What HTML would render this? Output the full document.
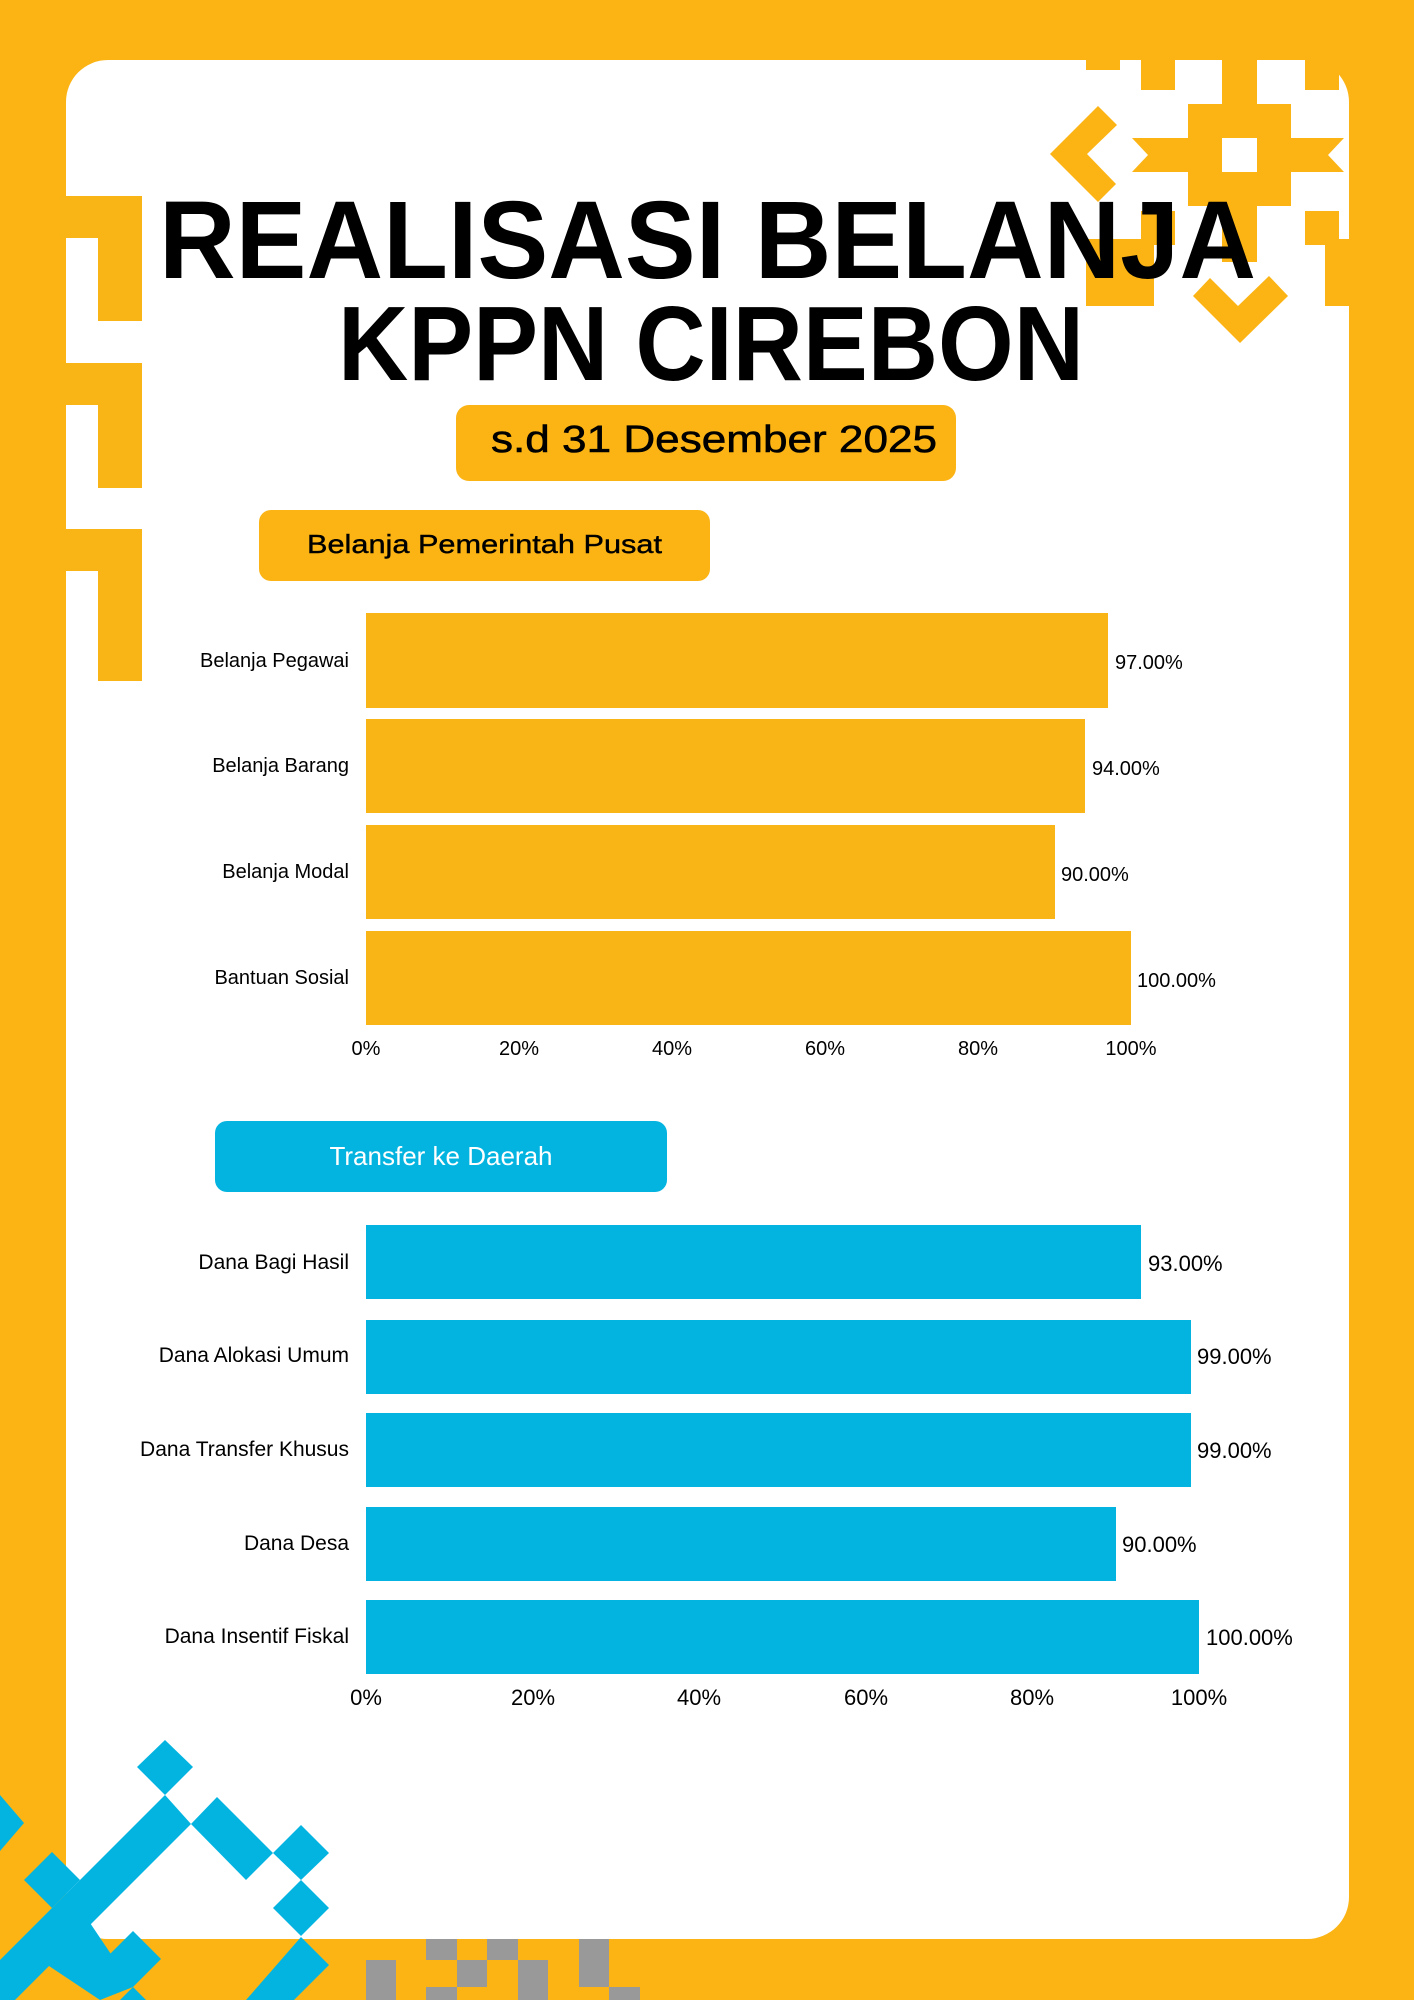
<!DOCTYPE html>
<html><head><meta charset="utf-8"><style>
html,body{margin:0;padding:0;background:#FBB414;}
svg{display:block}
text{font-family:"Liberation Sans",sans-serif;}
</style></head><body>
<svg width="1414" height="2000" viewBox="0 0 1414 2000" xmlns="http://www.w3.org/2000/svg">
<rect x="0" y="0" width="1414" height="2000" fill="#FBB414"/>
<rect x="66" y="60" width="1283" height="1879" rx="42" fill="#fff"/>
<!-- left pattern -->
<g fill="#F9B515">
<rect x="60" y="196" width="82" height="42"/><rect x="98" y="237" width="44" height="84"/>
<rect x="60" y="363" width="82" height="42"/><rect x="98" y="404" width="44" height="84"/>
<rect x="60" y="529" width="82" height="42"/><rect x="98" y="571" width="44" height="110"/>
</g>
<!-- top-right pattern -->
<g fill="#FBB414">
<rect x="1086" y="40" width="34" height="30"/>
<rect x="1141" y="55" width="34" height="35"/>
<rect x="1305" y="55" width="34" height="35"/>
<rect x="1222" y="50" width="35" height="212"/>
<rect x="1188" y="104" width="103" height="102"/>
<polygon points="1132,138 1344,138 1328,155 1344,172 1132,172 1148,155"/>
<polygon points="1098,106 1117,125 1087,154 1116,184 1098,202 1050,154"/>
<rect x="1141" y="211" width="34" height="34"/>
<rect x="1305" y="211" width="34" height="34"/>
<rect x="1086" y="239" width="68" height="67"/>
<rect x="1325" y="239" width="68" height="67"/>
<polygon points="1193,296 1210,278 1238,306 1269,276 1288,296 1240,343"/>
</g>
<rect x="1222" y="138" width="35" height="34" fill="#fff"/>
<!-- bottom-left blue -->
<g fill="#03B4E1">
<polygon points="165,1740 193,1767 165,1795 137,1767"/>
<polygon points="165,1795 191,1824 0,2015 0,1960"/>
<polygon points="191,1824 217,1797 273,1853 246,1880"/>
<polygon points="301,1825 329,1853 301,1880 273,1853"/>
<polygon points="301,1880 329,1908 301,1936 273,1908"/>
<polygon points="301,1937 329,1965 294,2000 246,2000"/>
<polygon points="52,1852 80,1880 52,1908 24,1880"/>
<polygon points="133,1931 161,1959 133,1987 105,1959"/>
<polygon points="0,1795 24,1823 0,1851"/>
<polygon points="80,1908 133,1987 100,2000 40,1960"/>
<polygon points="133,1987 146,2000 120,2000"/>
</g>
<!-- grey squares -->
<g fill="#999">
<rect x="366" y="1960" width="30" height="40"/><rect x="426" y="1939" width="31" height="21"/>
<rect x="426" y="1987" width="31" height="13"/><rect x="457" y="1960" width="30" height="27"/>
<rect x="487" y="1939" width="31" height="21"/><rect x="518" y="1960" width="30" height="40"/>
<rect x="579" y="1939" width="30" height="48"/><rect x="609" y="1987" width="31" height="13"/>
</g>
<!-- title -->
<text x="159" y="278" font-size="110" font-weight="bold" textLength="1097" lengthAdjust="spacingAndGlyphs" fill="#000">REALISASI BELANJA</text>
<text x="338" y="380" font-size="106" font-weight="bold" textLength="746" lengthAdjust="spacingAndGlyphs" fill="#000">KPPN CIREBON</text>
<rect x="456" y="405" width="500" height="76" rx="13" fill="#FBB414"/>
<text x="491" y="452" font-size="38" textLength="446" lengthAdjust="spacingAndGlyphs" fill="#000" stroke="#000" stroke-width="0.6">s.d 31 Desember 2025</text>
<rect x="259" y="510" width="451" height="71" rx="12" fill="#FBB414"/>
<text x="307" y="553" font-size="26" textLength="355" lengthAdjust="spacingAndGlyphs" fill="#000" stroke="#000" stroke-width="0.4">Belanja Pemerintah Pusat</text>
<!-- chart 1 -->
<g fill="#F9B515">
<rect x="366" y="613" width="742" height="95"/>
<rect x="366" y="719" width="719" height="94"/>
<rect x="366" y="825" width="689" height="94"/>
<rect x="366" y="931" width="765" height="94"/>
</g>
<g font-size="20" fill="#000" text-anchor="end">
<text x="349" y="667">Belanja Pegawai</text>
<text x="349" y="772">Belanja Barang</text>
<text x="349" y="878">Belanja Modal</text>
<text x="349" y="984">Bantuan Sosial</text>
</g>
<g font-size="20" fill="#000">
<text x="1115" y="669">97.00%</text>
<text x="1092" y="775">94.00%</text>
<text x="1061" y="881">90.00%</text>
<text x="1137" y="987">100.00%</text>
</g>
<g font-size="20" fill="#000" text-anchor="middle">
<text x="366" y="1055">0%</text><text x="519" y="1055">20%</text><text x="672" y="1055">40%</text>
<text x="825" y="1055">60%</text><text x="978" y="1055">80%</text><text x="1131" y="1055">100%</text>
</g>
<!-- chart 2 -->
<rect x="215" y="1121" width="452" height="71" rx="12" fill="#03B4E1"/>
<text x="441" y="1165" font-size="26" text-anchor="middle" fill="#fff">Transfer ke Daerah</text>
<g fill="#03B4E1">
<rect x="366" y="1225" width="775" height="74"/>
<rect x="366" y="1320" width="825" height="74"/>
<rect x="366" y="1413" width="825" height="74"/>
<rect x="366" y="1507" width="750" height="74"/>
<rect x="366" y="1600" width="833" height="74"/>
</g>
<g font-size="21" fill="#000" text-anchor="end">
<text x="349" y="1269">Dana Bagi Hasil</text>
<text x="349" y="1362">Dana Alokasi Umum</text>
<text x="349" y="1456">Dana Transfer Khusus</text>
<text x="349" y="1550">Dana Desa</text>
<text x="349" y="1643">Dana Insentif Fiskal</text>
</g>
<g font-size="22" fill="#000">
<text x="1148" y="1271">93.00%</text>
<text x="1197" y="1364">99.00%</text>
<text x="1197" y="1458">99.00%</text>
<text x="1122" y="1552">90.00%</text>
<text x="1206" y="1645">100.00%</text>
</g>
<g font-size="22" fill="#000" text-anchor="middle">
<text x="366" y="1705">0%</text><text x="533" y="1705">20%</text><text x="699" y="1705">40%</text>
<text x="866" y="1705">60%</text><text x="1032" y="1705">80%</text><text x="1199" y="1705">100%</text>
</g>
</svg>
</body></html>
